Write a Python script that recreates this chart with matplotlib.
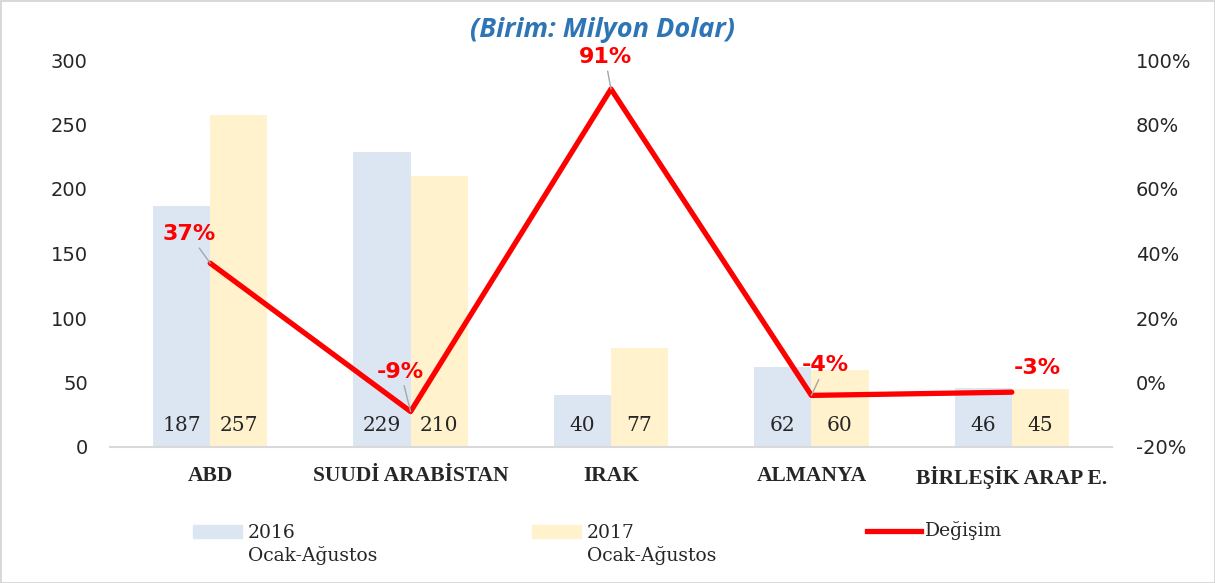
import numpy as np
import matplotlib.pyplot as plt
from matplotlib.patches import Rectangle
from matplotlib.lines import Line2D

# data
countries = ['ABD', 'SUUDİ ARABİSTAN', 'IRAK', 'ALMANYA', 'BİRLEŞİK ARAP E.']
y2016 = [187, 229, 40, 62, 46]
y2017 = [257, 210, 77, 60, 45]
change = [37, -9, 91, -4, -3]
# where the % labels sit relative to their point (pixels), leader line or not
pct_off = [(-21, 29), (-10, 40), (-6, 32), (14, 30), (26, 24)]
pct_leader = [True, True, True, True, False]

c16 = '#DCE6F2'
c17 = '#FFF2CC'
red = '#FF0000'
txt = '#262626'

fig = plt.figure(figsize=(12.15, 5.83), dpi=100)
fig.patch.set_edgecolor('#D9D9D9')
fig.patch.set_linewidth(2)
ax = fig.add_axes([110/1215, 1-447/583, 1002/1215, 387/583])
ax2 = ax.twinx()

x = np.arange(len(countries))
w = 0.285
ax.bar(x - w/2, y2016, w, color=c16, zorder=1)
ax.bar(x + w/2, y2017, w, color=c17, zorder=1)
for i in range(len(x)):
    ax.text(x[i] - w/2, 17, str(y2016[i]), ha='center', va='center',
            fontsize=14.5, family='DejaVu Serif', color=txt)
    ax.text(x[i] + w/2, 17, str(y2017[i]), ha='center', va='center',
            fontsize=14.5, family='DejaVu Serif', color=txt)

ax.set_xlim(-0.5, len(x) - 0.5)
ax.set_ylim(0, 300)
ax.set_yticks(np.arange(0, 301, 50))
ax.set_xticks(x)
ax.set_xticklabels(countries, fontsize=15.5, fontweight='bold',
                   family='Liberation Serif', color=txt)
ax.tick_params(axis='x', length=0, pad=14)
ax.tick_params(axis='y', length=0, pad=16, labelsize=14, labelcolor=txt)
for s in ['top', 'left', 'right']:
    ax.spines[s].set_visible(False)
ax.spines['bottom'].set_color('#D9D9D9')
ax.spines['bottom'].set_linewidth(1.5)

ax2.plot(x, change, color=red, linewidth=3.8, solid_capstyle='round', zorder=3)
ax2.set_ylim(-20, 100)
ax2.set_yticks(np.arange(-20, 101, 20))
ax2.set_yticklabels([f'{v}%' for v in range(-20, 101, 20)])
ax2.tick_params(axis='y', length=0, pad=17, labelsize=14, labelcolor=txt)
for s in ax2.spines.values():
    s.set_visible(False)

for i in range(len(x)):
    arrow = dict(arrowstyle='-', color='#A6A6A6', lw=1, shrinkA=1, shrinkB=0) if pct_leader[i] else None
    ax2.annotate(f'{change[i]}%', (x[i], change[i]), xytext=pct_off[i],
                 textcoords='offset pixels', ha='center', va='center',
                 fontsize=16, fontweight='bold', family='DejaVu Sans',
                 color=red, arrowprops=arrow)

fig.text(602/1215, 1-30/583, '(Birim: Milyon Dolar)', ha='center', va='center',
         fontsize=19.5, fontstyle='italic', fontweight='bold',
         family='Open Sans', color='#2E75B6')

# legend drawn by hand
lg = [('2016\nOcak-Ağustos', 193, c16), ('2017\nOcak-Ağustos', 532, c17)]
for lab, px, col in lg:
    fig.patches.append(Rectangle((px/1215, 1-538/583), 49/1215, 13/583,
                                 transform=fig.transFigure, color=col))
    fig.text((px + 55)/1215, 1-544.5/583, lab, ha='left', va='center',
             fontsize=13.5, family='DejaVu Serif', color=txt, linespacing=1.3)
fig.lines.append(Line2D([867/1215, 921/1215], [1-531/583, 1-531/583],
                        transform=fig.transFigure, color=red, linewidth=3.8))
fig.text(925/1215, 1-531/583, 'Değişim', ha='left', va='center',
         fontsize=13.5, family='DejaVu Serif', color=txt)

fig.savefig('out.png', dpi=100)
